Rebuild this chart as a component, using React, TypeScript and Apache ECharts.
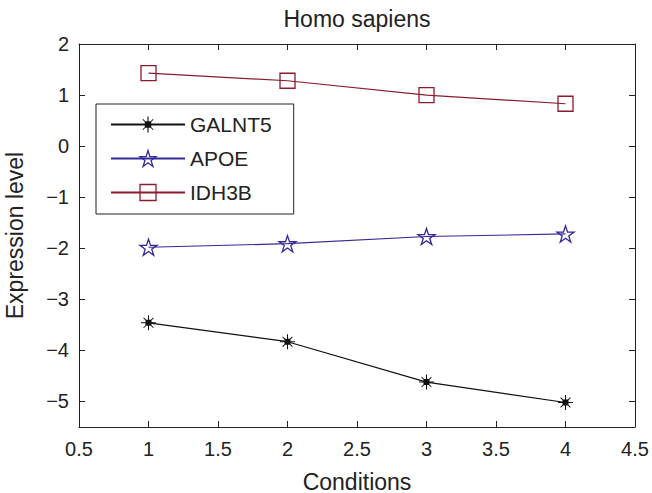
import React, { useEffect, useRef } from "react";
import * as echarts from "echarts";

const seriesNames = ["GALNT5", "APOE", "IDH3B"];
const conditions = [1, 2, 3, 4];
const galnt5 = [-3.46, -3.83, -4.62, -5.02];
const apoe = [-1.98, -1.91, -1.77, -1.72];
const idh3b = [1.43, 1.28, 1.0, 0.83];
const xTicks = [0.5, 1, 1.5, 2, 2.5, 3, 3.5, 4, 4.5];
const yTicks = [-5, -4, -3, -2, -1, 0, 1, 2];

const FONT = "'Liberation Sans', Arial, Helvetica, sans-serif";
const AX = "#222";

const asteriskPath =
  "path://M9.3,0 H10.7 V20 H9.3 Z M0,9.3 H20 V10.7 H0 Z M6,6 H14 V14 H6 Z M3,3.9 L3.9,3 L17,16.1 L16.1,17 Z M16.1,3 L17,3.9 L3.9,17 L3,16.1 Z";
const starPath =
  "path://M10,0 L12.245,6.91 L19.511,6.91 L13.633,11.18 L15.878,18.09 L10,13.82 L4.122,18.09 L6.367,11.18 L0.489,6.91 L7.755,6.91 Z";

const fmtMinus = (v: number) => String(v).replace("-", "\u2212");

export default function App() {
  const ref = useRef<HTMLDivElement>(null);
  useEffect(() => {
    if (!ref.current) return;
    const chart = echarts.init(ref.current, null, { renderer: "svg" });
    const colors = ["#111111", "#35299a", "#8c1b2f"];
    const values = [galnt5, apoe, idh3b];
    const symbols = [asteriskPath, starPath, "rect"];
    const sizes = [15, 17, 15];
    const itemStyles = colors.map((c, k) =>
      k === 0
        ? { color: c, borderWidth: 0 }
        : { color: "rgba(0,0,0,0)", borderColor: c, borderWidth: 1.3 }
    );
    chart.setOption({
      animation: false,
      backgroundColor: "#fff",
      title: {
        text: "Homo sapiens",
        left: 357,
        textAlign: "center",
        top: 7,
        padding: 0,
        textStyle: { fontFamily: FONT, fontSize: 23, fontWeight: "normal", color: AX },
      },
      grid: { left: 79, right: 17, top: 44, bottom: 66, containLabel: false, outerBoundsMode: "none" },
      legend: {
        orient: "vertical",
        left: 96,
        top: 104,
        padding: [10, 22, 11, 14],
        itemWidth: 74,
        itemHeight: 20,
        itemGap: 13,
        borderColor: AX,
        borderWidth: 1,
        borderRadius: 0,
        backgroundColor: "#fff",
        textStyle: { fontFamily: FONT, fontSize: 21, color: AX, lineHeight: 21 },
        data: seriesNames.map((name, k) => ({
          name,
          itemStyle: itemStyles[k],
        })),
      },
      xAxis: [
        {
          type: "value",
          min: 0.5,
          max: 4.5,
          interval: 0.5,
          name: "Conditions",
          nameLocation: "middle",
          nameGap: 43,
          nameTextStyle: { fontFamily: FONT, fontSize: 23, color: AX },
          axisLine: { show: true, onZero: false, lineStyle: { color: AX, width: 1 } },
          axisTick: { show: true, inside: true, length: 6, customValues: xTicks, lineStyle: { color: AX } },
          axisLabel: { show: true, margin: 12, customValues: xTicks, fontFamily: FONT, fontSize: 20, color: AX },
          splitLine: { show: false },
        },
        {
          type: "value",
          position: "top",
          min: 0.5,
          max: 4.5,
          interval: 0.5,
          axisLine: { show: true, onZero: false, lineStyle: { color: AX, width: 1 } },
          axisTick: { show: true, inside: true, length: 6, customValues: xTicks, lineStyle: { color: AX } },
          axisLabel: { show: false },
          splitLine: { show: false },
        },
      ],
      yAxis: [
        {
          type: "value",
          min: -5.5,
          max: 2,
          name: "Expression level",
          nameLocation: "middle",
          nameGap: 53,
          nameTextStyle: { fontFamily: FONT, fontSize: 23, color: AX },
          axisLine: { show: true, onZero: false, lineStyle: { color: AX, width: 1 } },
          axisTick: { show: true, inside: true, length: 6, customValues: yTicks, lineStyle: { color: AX } },
          axisLabel: {
            show: true,
            margin: 10,
            customValues: yTicks,
            formatter: fmtMinus,
            fontFamily: FONT,
            fontSize: 20,
            color: AX,
          },
          splitLine: { show: false },
        },
        {
          type: "value",
          position: "right",
          min: -5.5,
          max: 2,
          axisLine: { show: true, onZero: false, lineStyle: { color: AX, width: 1 } },
          axisTick: { show: true, inside: true, length: 6, customValues: yTicks, lineStyle: { color: AX } },
          axisLabel: { show: false },
          splitLine: { show: false },
        },
      ],
      series: seriesNames.map((name, k) => ({
        name,
        type: "line",
        xAxisIndex: 0,
        yAxisIndex: 0,
        data: conditions.map((c, i) => [c, values[k][i]]),
        symbol: symbols[k],
        symbolSize: sizes[k],
        symbolKeepAspect: true,
        showAllSymbol: true,
        lineStyle: { color: colors[k], width: 1.2 },
        itemStyle: itemStyles[k],
        emphasis: { disabled: true },
        z: 3,
      })),
    });
    return () => chart.dispose();
  }, []);
  return (
    <div
      ref={ref}
      style={{ position: "fixed", left: 0, top: 0, width: 652, height: 493, background: "#fff" }}
    />
  );
}
